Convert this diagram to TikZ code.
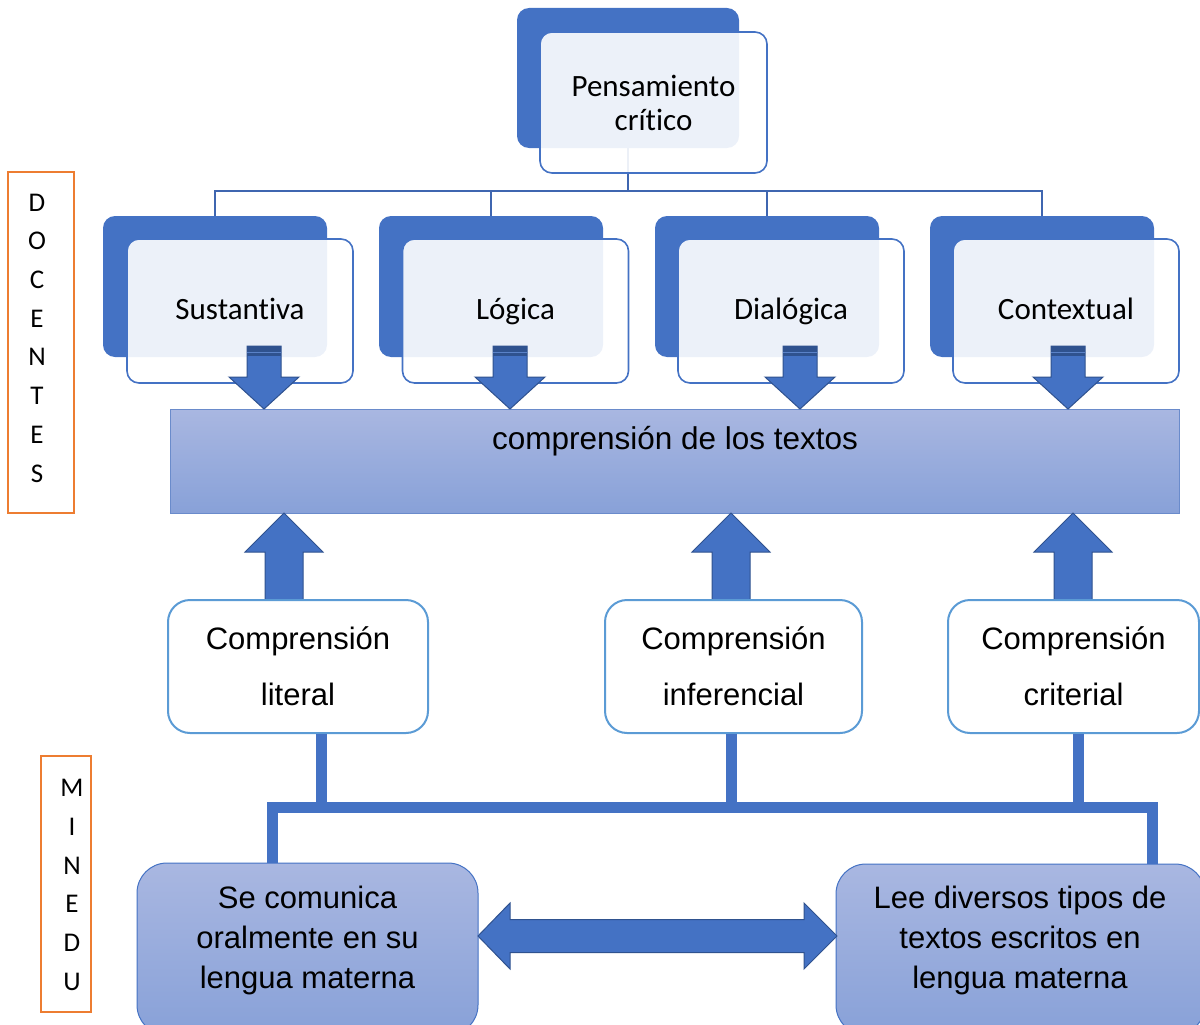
\documentclass[tikz,border=0pt]{standalone}
\usepackage{fontspec}
\setmainfont{Carlito}[Ligatures={NoCommon}]
\newfontfamily\arialf{Liberation Sans}
\usetikzlibrary{calc}
\definecolor{blueM}{HTML}{4472C4}
\definecolor{blueD}{HTML}{2F528F}
\definecolor{blueL}{HTML}{5A82C8}
\definecolor{lineC}{HTML}{3F66B0}
\definecolor{compB}{HTML}{5B9BD5}
\definecolor{orangeB}{HTML}{ED7D31}
\definecolor{gradT}{HTML}{A9B7E1}
\definecolor{gradB}{HTML}{88A1D8}
\definecolor{bandB}{HTML}{6A8BCB}
\begin{document}
\begin{tikzpicture}[x=1pt,y=-1pt,
  back/.style={fill=blueM, rounded corners=12pt, inner sep=0pt, minimum width=224, minimum height=141},
  front/.style={draw=blueM, line width=1.6pt, fill=white, fill opacity=0.9, text opacity=1,
    rounded corners=12pt, inner sep=0pt, minimum width=226, minimum height=144,
    font=\fontsize{31}{34}\selectfont, align=center},
  one line/.style={text height=22pt, text depth=6pt},
  hline/.style={draw=lineC, line width=2pt},
  thick conn/.style={draw=blueM, line width=11pt},
  comp/.style={draw=compB, line width=2pt, fill=white, rounded corners=22pt, minimum height=133,
    inner sep=0pt, align=center, font=\arialf\fontsize{31}{56}\selectfont},
  bot/.style={draw=blueM, line width=1pt, top color=gradT, bottom color=gradB, rounded corners=30pt, inner sep=0pt},
  bottxt/.style={align=center, font=\arialf\fontsize{31}{40}\selectfont},
  side/.style={draw=orangeB, line width=2pt, inner sep=0pt},
  sidetxt/.style={align=center, font=\fontsize{27}{38.7}\selectfont},
  downarr/.pic={
    \filldraw[fill=blueM, draw=blueD, line width=1pt, line join=miter]
      (-17,0) -- (17,0) -- (17,31) -- (35,31) -- (0,63) -- (-35,31) -- (-17,31) -- cycle;
    \fill[blueD] (-17,0) rectangle (17,10);
    \draw[blueL, line width=1pt] (-17,6.5) -- (17,6.5);
  },
  uparr/.pic={
    \filldraw[fill=blueM, draw=blueD, line width=1pt, line join=miter]
      (0,0) -- (39,39) -- (19,39) -- (19,89) -- (-19,89) -- (-19,39) -- (-39,39) -- cycle;
  }
]
\useasboundingbox (0,0) rectangle (1200,1025);

% ---- side labels
\node[side, minimum width=66, minimum height=341] (docbox) at (41,342.5) {};
\node[sidetxt] (doctxt) at (37,338) {D\\O\\C\\E\\N\\T\\E\\S};
\node[side, minimum width=50, minimum height=256] (minbox) at (66,884) {};
\node[sidetxt] (mintxt) at (72,885) {M\\I\\N\\E\\D\\U};

% ---- top box
\node[back, minimum width=222, minimum height=140] (topb) at (628,78) {};
\coordinate (hub) at (628,191);
\draw[hline] (topb.south) -- (hub);

% ---- middle back boxes
\node[back] (b1) at (215,286.5) {};
\node[back] (b2) at (491,286.5) {};
\node[back] (b3) at (767,286.5) {};
\node[back] (b4) at (1042,286.5) {};
\draw[hline] (hub) -| (b1.north);
\draw[hline] (hub) -| (b2.north);
\draw[hline] (hub) -| (b3.north);
\draw[hline] (hub) -| (b4.north);

\node[front, minimum width=227, minimum height=141] (topf) at (653.5,102.5) {Pensamiento\\crítico};

\node[front, one line] (f1) at (240,311) {Sustantiva};
\node[front, one line] (f2) at (515.5,311) {Lógica};
\node[front, one line] (f3) at (791,311) {Dialógica};
\node[front, one line] (f4) at (1066,311) {Contextual};

% ---- band
\node[draw=bandB, line width=1pt, top color=gradT, bottom color=gradB, minimum width=1009, minimum height=104, inner sep=0pt] (band) at (674.5,461) {};
\node[font=\arialf\fontsize{31.5}{36}\selectfont] (bandtxt) at (675,441) {comprensión de los textos};

% ---- down arrows
\pic at (264,346) {downarr};
\pic at (510,346) {downarr};
\pic at (800,346) {downarr};
\pic at (1068,346) {downarr};

% ---- up arrows
\pic at (284,513) {uparr};
\pic at (731,513) {uparr};
\pic at (1073,513) {uparr};

% ---- comprension boxes
\node[comp, minimum width=260] (c1) at (298,666.5) {Comprensión\\literal};
\node[comp, minimum width=257] (c2) at (733.5,666.5) {Comprensión\\inferencial};
\node[comp, minimum width=251] (c3) at (1073.5,666.5) {Comprensión\\criterial};

% ---- bottom boxes
\node[bot, minimum width=341, minimum height=172] (s1) at (307.5,949) {};
\node[bot, minimum width=369, minimum height=171] (s2) at (1020.5,949.5) {};

% ---- thick connectors
\draw[thick conn] ($(c1.south)+(23,0)$) -- (321,807);
\draw[thick conn] ($(c2.south)+(-2.5,0)$) -- (731,807);
\draw[thick conn] ($(c3.south)+(4.5,0)$) -- (1078,807);
\draw[thick conn, line join=miter] ($(s1.north)+(-35.5,0)$) -- (272,807) -- (1152,807) -- ($(s2.north)+(131.5,0)$);

\node[bottxt] (s1t) at (307.5,940) {Se comunica\\oralmente en su\\lengua materna};
\node[bottxt] (s2t) at (1020,940) {Lee diversos tipos de\\textos escritos en\\lengua materna};

% ---- double arrow
\coordinate (dl) at (478,936);
\coordinate (dr) at (837,936);
\filldraw[fill=blueM, draw=blueD, line width=1pt, line join=miter]
  (dl) -- ++(32,-33) -- ++(0,16.5) -- ($(dr)+(-33,-16.5)$) -- ++(0,-16.5) -- (dr)
  -- ++(-33,33) -- ++(0,-16.5) -- ($(dl)+(32,16.5)$) -- ++(0,16.5) -- cycle;
\end{tikzpicture}
\end{document}
